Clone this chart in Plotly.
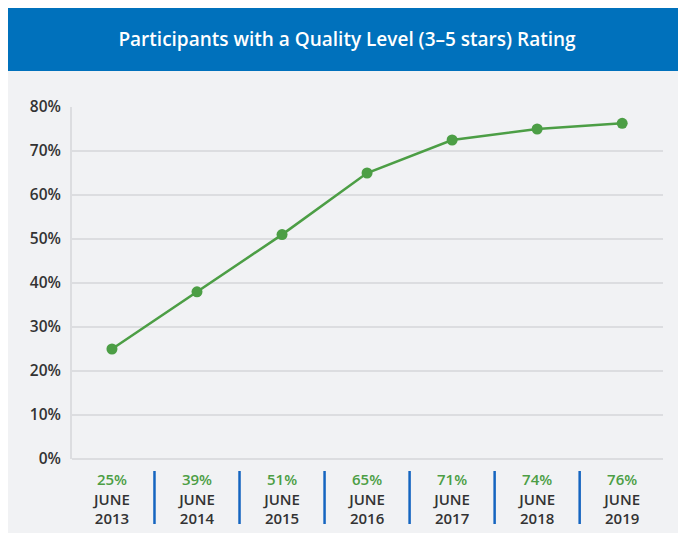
import plotly.graph_objects as go

# Data
years = ['2013', '2014', '2015', '2016', '2017', '2018', '2019']
pct_labels = ['25%', '39%', '51%', '65%', '71%', '74%', '76%']
pct_plotted = [25, 38, 51, 65, 72.5, 75, 76.3]
y_ticks = [0, 10, 20, 30, 40, 50, 60, 70, 80]

# the page has an 8px body margin, so the figure is shifted by 8px
OFF = 8
W, H = 686 - OFF, 533 - OFF
ML, MR, MT, MB = 64, 23, 99, 74
PW, PH = W - ML - MR, H - MT - MB


def px_x(x):
    # figure pixel -> paper x
    return (x - ML) / PW


def px_y(y):
    # figure pixel -> paper y
    return (H - MB - y) / PH


GREEN = '#4c9e45'
BLUE = '#0071bc'
GRID = '#dcdde0'
DARK = '#333333'
PANEL = '#f1f2f4'

xs = list(range(len(years)))
ticktext = ["<span style='color:%s'>%s</span><br>JUNE<br>%s" % (GREEN, p, y)
            for p, y in zip(pct_labels, years)]

fig = go.Figure()

fig.add_trace(
    go.Scatter(x=xs, y=pct_plotted,
               mode='lines+markers',
               line={'color': GREEN, 'width': 2.5},
               marker={'color': GREEN, 'size': 11},
               showlegend=False,
               hoverinfo='skip',
               )
)

shapes = []
# blue header
shapes.append(dict(type='rect', xref='paper', yref='paper',
                   x0=px_x(-2), x1=px_x(W + 2), y0=px_y(63), y1=px_y(-2),
                   fillcolor=BLUE, line={'width': 0}, layer='below'))
# blue separators between categories
for k in range(len(years) - 1):
    shapes.append(dict(type='line', xref='x', yref='paper',
                       x0=k + 0.5, x1=k + 0.5, y0=px_y(463), y1=px_y(516),
                       line={'color': '#1565c0', 'width': 2.5}))

fig.update_xaxes(
    range=[-0.47, 6.48],
    tickvals=xs,
    ticktext=ticktext,
    tickfont={'family': 'Open Sans', 'size': 15, 'color': DARK, 'weight': 600},
    showgrid=False,
    zeroline=False,
    showline=False,
    ticks='',
    ticklabelstandoff=10,
    automargin=False,
    fixedrange=True,
)

fig.update_yaxes(
    range=[0, 80],
    tickvals=y_ticks,
    ticktext=['%d%%' % v for v in y_ticks],
    tickfont={'family': 'Open Sans', 'size': 15.5, 'color': DARK, 'weight': 600},
    showgrid=True,
    gridcolor=GRID,
    gridwidth=2,
    zeroline=True,
    zerolinecolor=GRID,
    zerolinewidth=2,
    showline=True,
    linecolor=GRID,
    linewidth=2,
    ticks='',
    ticklabelstandoff=6,
    automargin=False,
    fixedrange=True,
)

fig.update_layout(
    width=W, height=H,
    margin=dict(l=ML, r=MR, t=MT, b=MB, autoexpand=False),
    paper_bgcolor=PANEL,
    plot_bgcolor='rgba(0,0,0,0)',
    shapes=shapes,
    title=dict(text='Participants with a Quality Level (3–5 stars) Rating',
               font={'family': 'Open Sans', 'size': 19, 'color': 'white', 'weight': 600},
               x=0.5, xanchor='center',
               y=1 - 31 / H, yanchor='middle'),
)

fig.write_html('out.html')
